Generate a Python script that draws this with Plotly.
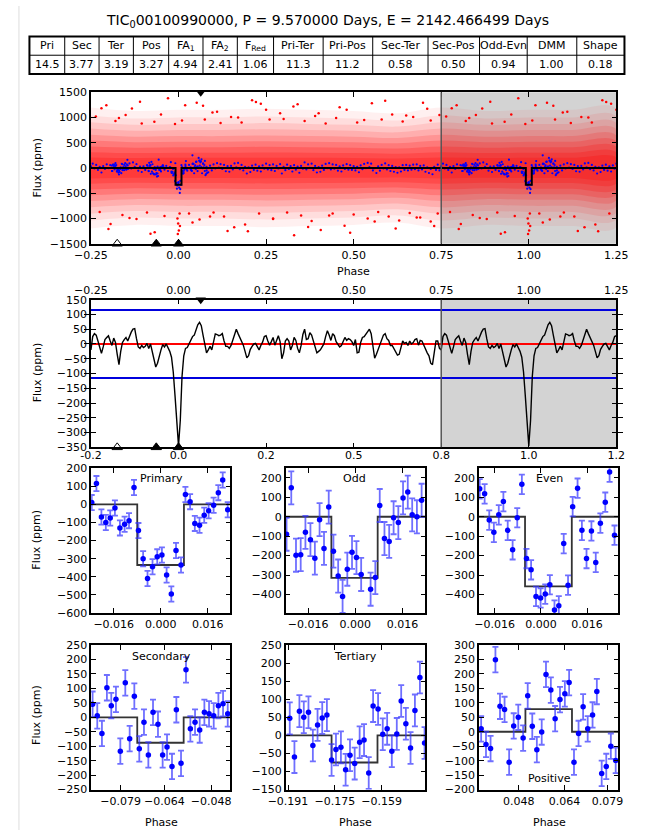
import numpy as np
import plotly.graph_objects as go

W, H = 646, 837
FONT = "DejaVu Sans"

TITLE = "TIC<sub>0</sub>00100990000, P = 9.570000 Days, E = 2142.466499 Days"

TABLE_HEAD = ["Pri", "Sec", "Ter", "Pos", "FA<sub>1</sub>", "FA<sub>2</sub>", "F<sub>Red</sub>",
              "Pri-Ter", "Pri-Pos", "Sec-Ter", "Sec-Pos", "Odd-Evn", "DMM", "Shape"]
TABLE_VALS = ["14.5", "3.77", "3.19", "3.27", "4.94", "2.41", "1.06",
              "11.3", "11.2", "0.58", "0.50", "0.94", "1.00", "0.18"]
TABLE_COL_W = [37, 36, 36, 37, 36, 36, 38, 52, 52, 58, 54, 50, 52, 50]

# event phases
PRI_PH, SEC_PH, TER_PH, POS_PH = 0.0, -0.0635, -0.175, 0.0635

# full light curve model (one transit per cycle)
MODEL_DEPTH = -335
MODEL_HALF_DUR = 0.0085

# smoothed flux (panel 2), sampled every 0.005 in phase from -0.25 to 0.75
CURVE_START, CURVE_STEP = -0.25, 0.005
SMOOTH_FLUX = [
    -20, 25, 35, 30, 10, -15, -32, -10, 15, 22, 28, 10, -5, 20, 5, -35, -70, -25, 5, 15,
    22, 10, 28, 40, 50, 52, 18, -10, -15, -5, -12, -8, 2, -15, 0, -25, -60, -78, -65, -40,
    -20, -2, -10, 0, -12, -25, -45, -95, -175, -270, -345, -260, -110, -40, -15, -12, 0, 12, 25, 30,
    50, 65, 73, 62, 30, -5, -30, -20, -8, -20, 10, 34, 32, 28, 30, 35, 10, -8, -8, -15,
    -5, 12, 33, 50, 35, 22, 12, -4, -25, -47, -40, -18, -8, 0, 2, -10, -20, -5, 6, 25,
    28, 10, -4, 8, 22, -4, 12, 28, 8, -50, -30, 10, 18, 10, -20, -5, 22, 12, -15, -30,
    -5, 32, 50, 15, 18, 38, 30, 10, -5, -30, -25, -20, -10, 0, 25, 45, 30, 12, 35, 28,
    8, 0, -10, -5, 12, 22, 12, 18, 15, 8, -5, 15, -30, -28, 5, 22, 25, 35, 45, 50,
    35, -5, -48, -35, -18, 0, 18, 30, 35, 18, 12, -5, -5, -15, -25, -38, -35, -15, 10, 2,
    5, -5, 10, 0, 5, 15, 18, -4, 12, 10, -5, -20, -30, -40, -65, -70, -30, 10, 10, -15,
    -20,
]

# binned flux (blue points, panel 1), same sampling, -0.25 to 0.745
BINNED_FLUX = [
    30, 85, -10, 60, -40, 20, -90, 35, -20, 70, -5, 55, -60, 40, 95, -70, -130, 10, -45, 60,
    -15, 50, 90, -10, 110, 20, 75, -55, 25, -80, 30, -40, 55, -65, 45, -5, -120, -40, -110, 5,
    -70, 50, -35, 40, -60, 15, -95, -150, -260, -340, -300, -420, -60, -100, 35, -55, 60, -30, 80, -5,
    120, 30, 140, 15, 85, -60, 20, -85, 45, -50, 70, -10, 95, 5, 75, -20, 60, -65, 35, -75,
    40, -30, 90, 10, 100, -25, 60, -50, 20, -110, 10, -80, 45, -40, 65, -55, 30, -70, 50, -15,
    85, -30, 55, -45, 70, -60, 40, -10, 75, -110, 20, -45, 65, -20, 35, -70, 55, -35, 25, -95,
    40, -15, 110, -30, 70, 0, 85, -45, 40, -90, 15, -75, 45, -40, 80, -5, 95, -30, 70, -15,
    60, -55, 30, -70, 50, -20, 75, -35, 55, -40, 35, -50, 20, -85, 50, -25, 80, -5, 100, 15,
    85, -50, -5, -100, 30, -55, 60, -10, 90, -30, 55, -60, 40, -75, 15, -95, 10, -70, 55, -40,
    60, -50, 45, -35, 65, -25, 70, -50, 40, -30, 50, -75, 10, -100, -20, -125, 20, -40, 65, -50,
]

CLOUD_PHASE = [-0.25, -0.125, 0.0, 0.125, 0.25, 0.375, 0.5, 0.625, 0.75]
CLOUD_SPREAD = [1.04, 0.98, 1.0, 1.0, 1.02, 1.0, 0.98, 0.94, 1.04]
CLOUD_LEVELS = [1150, 1000, 870, 750, 630, 520, 410, 300, 200]
CLOUD_ALPHA = [0.06, 0.08, 0.1, 0.12, 0.15, 0.18, 0.2, 0.22, 0.22]

# sparse raw points outside the dense part of the cloud
RED_PHASE = [
    -0.236, -0.206, -0.18, -0.151, -0.133, -0.105, -0.069, -0.03, -0.01, 0.019, 0.052, 0.075, 0.097,
    0.12, 0.15, 0.18, 0.221, 0.235, 0.26, 0.29, 0.328, 0.36, 0.39, 0.42, 0.45, 0.48, 0.51, 0.552,
    0.58, 0.61, 0.64, 0.67, 0.698, 0.72, 0.745,
    -0.225, -0.194, -0.16, -0.12, -0.09, -0.068, -0.04, -0.002, 0.004, 0.03, 0.06, 0.1, 0.13,
    0.159, 0.198, 0.23, 0.27, 0.31, 0.35, 0.38, 0.406, 0.44, 0.474, 0.5, 0.54, 0.57, 0.6, 0.63,
    0.66, 0.69, 0.72, 0.74,
    -0.22, -0.17, -0.11, -0.05, 0.01, 0.07, 0.11, 0.17, 0.21, 0.25, 0.3, 0.34, 0.4, 0.46, 0.53,
    0.59, 0.65, 0.71, -0.2, -0.14, -0.08, 0.04, 0.09, 0.14, 0.19, 0.27, 0.33, 0.37, 0.43, 0.49,
    0.56, 0.62, 0.68, 0.73, -0.003, 0.001, 0.003, -0.001,
]
RED_FLUX = [
    1020, 1240, 930, 1050, 1175, 880, 915, 1377, 870, 1240, 1290, 960, 1097,
    890, 1010, 900, 1305, 1270, 960, 1080, 1214, 930, 1030, 880, 990, 1150, 900, 1279,
    960, 1060, 920, 1010, 1292, 940, 1050,
    -870, -1110, -930, -1010, -880, -1273, -950, -1305, -1150, -900, -1020, -880, -960,
    -1175, -1253, -900, -1000, -880, -940, -1050, -1227, -900, -1143, -920, -1000, -870, -960, -1040,
    -890, -980, -1058, -900,
    1180, 990, 1310, 1060, 940, 1230, 1110, 1000, 1340, 1150, 970, 1260, 1080, 1200, 950,
    1330, 1040, 1170, -1210, -990, -1300, -1080, -960, -1250, -1120, -1010, -1330, -1170, -940, -1280,
    -1060, -1200, -980, -1150, -1000, -1240, -900, -1100,
]

# panel 2 thresholds
THRESH = 115
P2_TICKS = [-0.25, 0.0, 0.25, 0.5, 0.75, 1.0, 1.25]
P2_TICK_TEXT = ["-0.2", "0.0", "0.2", "0.5", "0.8", "1.0", "1.2"]

# zoomed folds: binned points and box models
PRI_X = [-0.0235, -0.0219, -0.0202, -0.0187, -0.0172, -0.0156, -0.0139, -0.0123, -0.0108, -0.0091,
         -0.0076, -0.0060, -0.0045, -0.0028, -0.0012, 0.0004, 0.0020, 0.0036, 0.0052, 0.0069,
         0.0084, 0.0100, 0.0116, 0.0132, 0.0148, 0.0163, 0.0180, 0.0196, 0.0211, 0.0228]
PRI_Y = [10, 115, -70, -100, -75, -20, -130, -110, -90, 93, -145, -300, -410, -345, -290,
         -280, -390, -495, -255, -335, 55, 15, -105, -115, -60, -35, -5, 65, 135, -30]
PRI_ERR = 42
PRI_MODEL_X = [-0.0237, -0.0080, 0.0079, 0.0237]
PRI_MODEL_Y = [0, -335, 0, 0]

ODD_X = [-0.0233, -0.0217, -0.0201, -0.0185, -0.0169, -0.0152, -0.0137, -0.0121, -0.0106, -0.0090,
         -0.0074, -0.0058, -0.0043, -0.0027, -0.0011, 0.0004, 0.0020, 0.0052, 0.0068, 0.0083,
         0.0099, 0.0115, 0.0130, 0.0146, 0.0162, 0.0178, 0.0193, 0.0209, 0.0225]
ODD_Y = [-90, 149, -198, -195, -80, -118, -213, -15, -163, 50, -177, -305, -410, -270, -183,
         -210, -297, -373, -313, 58, -112, -127, -5, -30, 97, 127, 10, 0, 85]
ODD_ERR = 85
ODD_MODEL_X = [-0.0237, -0.0081, 0.0076, 0.0238]
ODD_MODEL_Y = [0, -315, 0, 0]

EVEN_X = [-0.0212, -0.0195, -0.0179, -0.0163, -0.0146, -0.0130, -0.0115, -0.0098, -0.0082, -0.0066,
          -0.0050, -0.0034, -0.0017, -0.0001, 0.0015, 0.0031, 0.0047, 0.0062, 0.0079, 0.0094,
          0.0110, 0.0127, 0.0142, 0.0158, 0.0175, 0.0190, 0.0206, 0.0223, 0.0238, 0.0255]
EVEN_Y = [144, 118, -17, -80, 10, 78, -70, -170, -5, 167, -215, -273, -410, -418, -398,
          -350, -480, -458, -138, -352, 52, 147, -70, -215, -73, -235, -33, 75, 230, -95]
EVEN_ERR = 50
EVEN_MODEL_X = [-0.0215, -0.0055, 0.0107, 0.0268]
EVEN_MODEL_Y = [0, -358, 0, 0]

SEC_X = [-0.0886, -0.0870, -0.0854, -0.0837, -0.0822, -0.0806, -0.0791, -0.0774, -0.0759, -0.0743,
         -0.0726, -0.0710, -0.0695, -0.0679, -0.0662, -0.0646, -0.0631, -0.0614, -0.0599, -0.0583,
         -0.0566, -0.0551, -0.0535, -0.0519, -0.0503, -0.0487, -0.0471, -0.0455, -0.0439, -0.0423]
SEC_Y = [45, 5, -56, 102, 40, 62, -117, 119, -74, 73, -109, -17, -130, 17, -24, -130, -103,
         -170, 26, -159, 164, -40, -17, -44, 17, 12, 5, 40, 47, 12]
SEC_ERR = 44
SEC_MODEL_X = [-0.0891, -0.0733, -0.0574, -0.0414]
SEC_MODEL_Y = [0, -88, 0, 0]

TER_X = [-0.1904, -0.1888, -0.1871, -0.1856, -0.1840, -0.1825, -0.1809, -0.1793, -0.1777, -0.1761,
         -0.1746, -0.1729, -0.1713, -0.1698, -0.1682, -0.1665, -0.1650, -0.1634, -0.1619, -0.1602,
         -0.1586, -0.1571, -0.1555, -0.1538, -0.1523, -0.1507, -0.1491, -0.1476, -0.1459, -0.1443]
TER_Y = [47, -60, 67, 50, 64, -28, 29, 48, 56, -68, -39, -33, -95, -55, -78, -19, -13, -104,
         81, 73, 3, 18, -44, 4, 95, 32, -35, 69, 160, -21]
TER_ERR = 44
TER_MODEL_X = [-0.1918, -0.1761, -0.1604, -0.1440]
TER_MODEL_Y = [0, -75, 0, 0]

POS_X = [0.0348, 0.0365, 0.0381, 0.0398, 0.0414, 0.0430, 0.0446, 0.0462, 0.0478, 0.0495,
         0.0511, 0.0527, 0.0543, 0.0560, 0.0575, 0.0592, 0.0607, 0.0624, 0.0641, 0.0656,
         0.0673, 0.0689, 0.0705, 0.0721, 0.0738, 0.0753, 0.0770, 0.0786, 0.0802, 0.0819]
POS_Y = [10, -44, -58, 249, 88, 77, -105, 20, 50, -22, 124, 19, -62, -1, 198, 144, 45, 111,
         131, 170, -105, -6, 86, 10, 58, 139, -144, -120, -50, -99]
POS_ERR = 44
POS_MODEL_X = [0.0340, 0.0503, 0.0666, 0.0828]
POS_MODEL_Y = [0, 78, 0, 0]


def px_x(x):
    return x / W


def px_y(y):
    return 1 - y / H


def dom_x(a, b):
    return [a / W, b / W]


def dom_y(top, bottom):
    return [1 - bottom / H, 1 - top / H]


def frame(**kw):
    ax = dict(showline=True, linecolor="black", linewidth=1.5, mirror="allticks",
              ticks="inside", ticklen=5, tickcolor="black", showgrid=False, zeroline=False,
              tickfont=dict(family=FONT, size=11, color="black"), fixedrange=True)
    ax.update(kw)
    return ax


def label(text, x, y, size=11, angle=0):
    return dict(text=text, x=px_x(x), y=px_y(y), xref="paper", yref="paper",
                showarrow=False, textangle=angle, xanchor="center", yanchor="middle",
                font=dict(family=FONT, size=size, color="black"))


# ---- periodic extension of one folded cycle out to phase 1.25
curve_ph = CURVE_START + CURVE_STEP * np.arange(len(SMOOTH_FLUX))
smooth = np.array(SMOOTH_FLUX, dtype=float)
wrap = (curve_ph > -0.25 + 1e-9) & (curve_ph <= 0.25 + 1e-9)
curve_x = np.concatenate([curve_ph, curve_ph[wrap] + 1])
curve_y = np.concatenate([smooth, smooth[wrap]])

bin_ph = CURVE_START + CURVE_STEP * np.arange(len(BINNED_FLUX))
binned = np.array(BINNED_FLUX, dtype=float)
bwrap = bin_ph <= 0.25 + 1e-9
bin_x = np.concatenate([bin_ph, bin_ph[bwrap] + 1])
bin_y = np.concatenate([binned, binned[bwrap]])

# blue points in panel 1 also carry the zoomed binned data at their phases
bin_x = np.concatenate([bin_x, PRI_X, np.array(PRI_X) + 1, SEC_X, np.array(SEC_X) + 1,
                        TER_X, np.array(TER_X) + 1, POS_X, np.array(POS_X) + 1])
bin_y = np.concatenate([bin_y, PRI_Y, PRI_Y, SEC_Y, SEC_Y, TER_Y, TER_Y, POS_Y, POS_Y])

cp = np.array(CLOUD_PHASE)
cwrap = (cp > -0.25 + 1e-9) & (cp <= 0.25 + 1e-9)
cloud_x = np.concatenate([cp, cp[cwrap] + 1])
spread = np.array(CLOUD_SPREAD)
spread = np.concatenate([spread, spread[cwrap]])

red_ph = np.array(RED_PHASE)
rwrap = red_ph <= 0.25
red_x = np.concatenate([red_ph, red_ph[rwrap] + 1])
red_y = np.concatenate([RED_FLUX, np.array(RED_FLUX)[rwrap]])

model_x = [-0.25, PRI_PH - MODEL_HALF_DUR, PRI_PH + MODEL_HALF_DUR,
           PRI_PH + 1 - MODEL_HALF_DUR, PRI_PH + 1 + MODEL_HALF_DUR, 1.25]
model_y = [0, MODEL_DEPTH, 0, MODEL_DEPTH, 0, 0]

fig = go.Figure()

# ---- panel 1: raw flux cloud, binned flux, model
for level, alpha in zip(CLOUD_LEVELS, CLOUD_ALPHA):
    hw = level * spread
    fig.add_trace(go.Scatter(
        x=np.concatenate([cloud_x, cloud_x[::-1]]),
        y=np.concatenate([hw, -hw[::-1]]),
        fill="toself", fillcolor=f"rgba(255,0,0,{alpha})", line=dict(width=0),
        mode="lines", line_shape="spline", xaxis="x", yaxis="y", hoverinfo="skip",
        showlegend=False))

fig.add_trace(go.Scatter(x=red_x, y=red_y, mode="markers", xaxis="x", yaxis="y",
                         marker=dict(color="red", size=2.5), showlegend=False))
fig.add_trace(go.Scatter(x=bin_x, y=bin_y, mode="markers", xaxis="x", yaxis="y",
                         marker=dict(color="blue", size=2.2), showlegend=False))
fig.add_trace(go.Scatter(x=model_x, y=model_y, mode="lines", line_shape="hv",
                         line=dict(color="black", width=2), xaxis="x", yaxis="y",
                         showlegend=False))

# ---- panel 2: smoothed flux with thresholds
for yv, col in [(THRESH, "#0000dd"), (-THRESH, "#0000dd"), (0, "red")]:
    fig.add_trace(go.Scatter(x=[-0.25, 1.25], y=[yv, yv], mode="lines",
                             line=dict(color=col, width=2), xaxis="x2", yaxis="y2",
                             showlegend=False))
fig.add_trace(go.Scatter(x=curve_x, y=curve_y, mode="lines",
                         line=dict(color="black", width=1.4), xaxis="x2", yaxis="y2",
                         showlegend=False))
fig.add_trace(go.Scatter(x=[None], y=[None], xaxis="x9", yaxis="y2", showlegend=False))

# event markers on panels 1 and 2
for xa, ya, lo, hi in [("x", "y", -1500, 1500), ("x2", "y2", -350, 150)]:
    fig.add_trace(go.Scatter(
        x=[TER_PH, SEC_PH, PRI_PH], y=[lo, lo, lo], mode="markers", cliponaxis=False,
        marker=dict(symbol=["triangle-up-open", "triangle-up", "triangle-up"], size=9,
                    color="black", line=dict(color="black", width=1)),
        xaxis=xa, yaxis=ya, showlegend=False))
    fig.add_trace(go.Scatter(
        x=[POS_PH], y=[hi], mode="markers", cliponaxis=False,
        marker=dict(symbol="triangle-down", size=9, color="black"),
        xaxis=xa, yaxis=ya, showlegend=False))

# ---- zoomed folds
zooms = [
    ("3", PRI_X, PRI_Y, PRI_ERR, PRI_MODEL_X, PRI_MODEL_Y),
    ("4", ODD_X, ODD_Y, ODD_ERR, ODD_MODEL_X, ODD_MODEL_Y),
    ("5", EVEN_X, EVEN_Y, EVEN_ERR, EVEN_MODEL_X, EVEN_MODEL_Y),
    ("6", SEC_X, SEC_Y, SEC_ERR, SEC_MODEL_X, SEC_MODEL_Y),
    ("7", TER_X, TER_Y, TER_ERR, TER_MODEL_X, TER_MODEL_Y),
    ("8", POS_X, POS_Y, POS_ERR, POS_MODEL_X, POS_MODEL_Y),
]
for k, xs, ys, err, mx, my in zooms:
    fig.add_trace(go.Scatter(x=mx, y=my, mode="lines", line_shape="hv",
                             line=dict(color="#333333", width=1.8),
                             xaxis="x" + k, yaxis="y" + k, showlegend=False))
    fig.add_trace(go.Scatter(
        x=xs, y=ys, mode="markers", marker=dict(color="blue", size=5.5),
        error_y=dict(type="constant", value=err, color="rgba(50,50,255,0.7)",
                     thickness=1.8, width=3),
        xaxis="x" + k, yaxis="y" + k, showlegend=False))

col_x = [(76.7, 222.7), (280.7, 427.3), (483.3, 629.5)]
row1 = (469.5, 616.5)
row2 = (649, 796)

layout_axes = dict(
    xaxis=frame(domain=dom_x(76.5, 627.5), anchor="y", range=[-0.25, 1.25], dtick=0.25,
                tick0=0, tickformat=".2f"),
    yaxis=frame(domain=dom_y(87.5, 241.5), anchor="x", range=[-1500, 1500], dtick=500),
    xaxis2=frame(domain=dom_x(76.5, 627.5), anchor="y2", side="top", range=[-0.25, 1.25],
                 dtick=0.25, tick0=0, tickformat=".2f"),
    yaxis2=frame(domain=dom_y(298.3, 448.3), anchor="x2", range=[-350, 150], dtick=50),
    xaxis9=dict(overlaying="x2", anchor="y2", side="bottom", range=[-0.25, 1.25],
                tickvals=P2_TICKS, ticktext=P2_TICK_TEXT, showline=False, ticks="",
                showgrid=False, zeroline=False, fixedrange=True,
                tickfont=dict(family=FONT, size=11, color="black")),
    xaxis3=frame(domain=dom_x(*col_x[0]), anchor="y3", range=[-0.0237, 0.0237],
                 tickvals=[-0.016, 0, 0.016], tickformat=".3f"),
    yaxis3=frame(domain=dom_y(*row1), anchor="x3", range=[-600, 200], dtick=100),
    xaxis4=frame(domain=dom_x(*col_x[1]), anchor="y4", range=[-0.0236, 0.0238],
                 tickvals=[-0.016, 0, 0.016], tickformat=".3f"),
    yaxis4=frame(domain=dom_y(*row1), anchor="x4", range=[-495, 250], dtick=100),
    xaxis5=frame(domain=dom_x(*col_x[2]), anchor="y5", range=[-0.0215, 0.0268],
                 tickvals=[-0.016, 0, 0.016], tickformat=".3f"),
    yaxis5=frame(domain=dom_y(*row1), anchor="x5", range=[-495, 250], dtick=100),
    xaxis6=frame(domain=dom_x(*col_x[0]), anchor="y6", range=[-0.0891, -0.0414],
                 tickvals=[-0.079, -0.064, -0.048], tickformat=".3f"),
    yaxis6=frame(domain=dom_y(*row2), anchor="x6", range=[-250, 250], dtick=50),
    xaxis7=frame(domain=dom_x(*col_x[1]), anchor="y7", range=[-0.1918, -0.1440],
                 tickvals=[-0.191, -0.175, -0.159], tickformat=".3f"),
    yaxis7=frame(domain=dom_y(*row2), anchor="x7", range=[-150, 250], dtick=50),
    xaxis8=frame(domain=dom_x(*col_x[2]), anchor="y8", range=[0.0340, 0.0828],
                 tickvals=[0.048, 0.064, 0.079], tickformat=".3f"),
    yaxis8=frame(domain=dom_y(*row2), anchor="x8", range=[-200, 300], dtick=50),
)

shapes = []
for xa, ya in [("x", "y"), ("x2", "y2")]:
    shapes.append(dict(type="rect", xref=xa, yref=ya + " domain", x0=0.75, x1=1.25, y0=0, y1=1,
                       fillcolor="#d3d3d3", line=dict(width=0), layer="below"))
    shapes.append(dict(type="line", xref=xa, yref=ya + " domain", x0=0.75, x1=0.75, y0=0, y1=1,
                       line=dict(color="#555555", width=1.5)))

# ---- summary table (grid + text)
TBL_LEFT, TBL_TOP, ROW_H = 12, 31, 19
edges = TBL_LEFT + np.concatenate([[0], np.cumsum(TABLE_COL_W)])
shapes.append(dict(type="rect", xref="paper", yref="paper", x0=px_x(edges[0]), x1=px_x(edges[-1]),
                   y0=px_y(TBL_TOP + 2 * ROW_H), y1=px_y(TBL_TOP), line=dict(color="black", width=2)))
shapes.append(dict(type="line", xref="paper", yref="paper", x0=px_x(edges[0]), x1=px_x(edges[-1]),
                   y0=px_y(TBL_TOP + ROW_H), y1=px_y(TBL_TOP + ROW_H),
                   line=dict(color="black", width=1)))
for e in edges[1:-1]:
    shapes.append(dict(type="line", xref="paper", yref="paper", x0=px_x(e), x1=px_x(e),
                       y0=px_y(TBL_TOP + 2 * ROW_H), y1=px_y(TBL_TOP),
                       line=dict(color="black", width=1)))
shapes.append(dict(type="line", xref="paper", yref="paper", x0=px_x(1), x1=px_x(1),
                   y0=0, y1=1, line=dict(color="#dddddd", width=1)))

annotations = [label(TITLE, 325, 15, size=14)]
for i, (hd, val) in enumerate(zip(TABLE_HEAD, TABLE_VALS)):
    xc = (edges[i] + edges[i + 1]) / 2
    annotations.append(label(hd, xc, TBL_TOP + ROW_H / 2))
    annotations.append(label(val, xc, TBL_TOP + 1.5 * ROW_H))
for yc in [164, 372, 542, 720]:
    annotations.append(label("Flux (ppm)", 20, yc, angle=-90))
annotations.append(label("Phase", 352, 270))
for xc in [150, 354, 557]:
    annotations.append(label("Phase", xc, 829))
annotations += [
    label("Primary", 150, 480), label("Odd", 353, 480), label("Even", 557, 480),
    label("Secondary", 150, 661), label("Tertiary", 354, 661), label("Positive", 557, 785),
]

fig.update_layout(
    width=W, height=H, autosize=False,
    margin=dict(l=0, r=0, t=0, b=0),
    paper_bgcolor="white", plot_bgcolor="white",
    font=dict(family=FONT, size=11, color="black"),
    showlegend=False,
    shapes=shapes, annotations=annotations,
    **layout_axes,
)

# drop the default page margin so the 646x837 figure fills the window exactly
fig.write_html("out.html", config={"displayModeBar": False},
               post_script="document.body.style.margin='0';")
